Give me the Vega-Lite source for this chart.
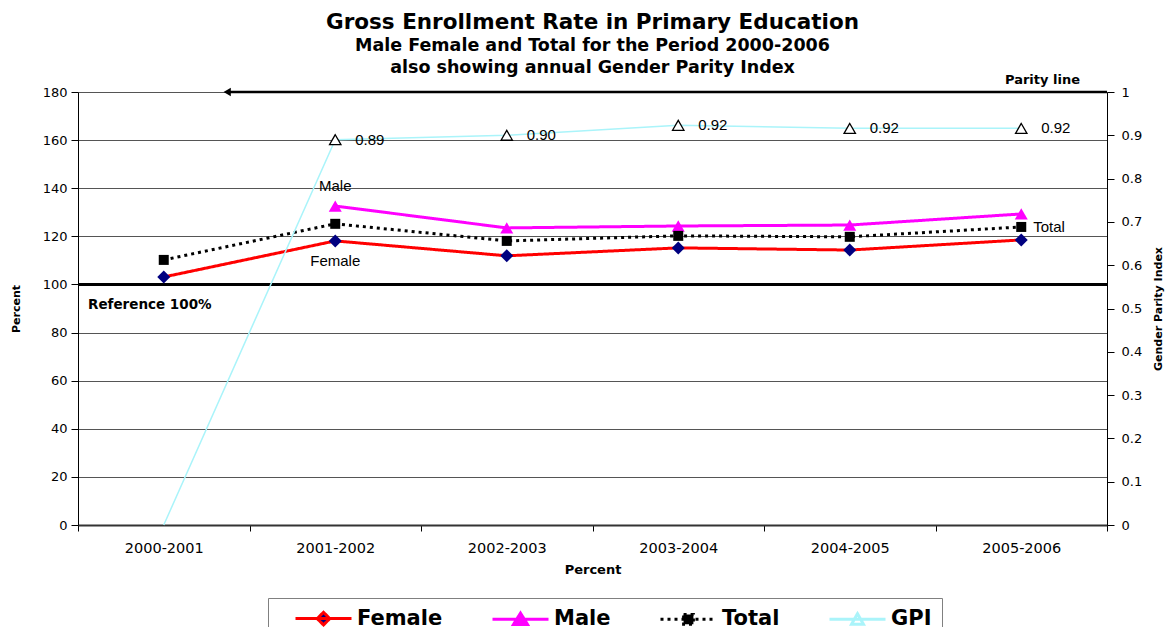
{
  "$schema": "https://vega.github.io/schema/vega-lite/v6.json",
  "width": 1029,
  "height": 433,
  "autosize": {"type": "none"},
  "padding": {"left": 78, "top": 92, "right": 60, "bottom": 102},
  "background": "white",
  "title": {
    "text": "Gross Enrollment Rate in Primary Education",
    "subtitle": ["Male Female and Total for the Period 2000-2006", "also showing annual Gender Parity Index"],
    "anchor": "middle",
    "frame": "group",
    "font": "DejaVu Sans",
    "fontSize": 21.5,
    "fontWeight": "bold",
    "color": "black",
    "subtitleFont": "DejaVu Sans",
    "subtitleFontSize": 17.5,
    "subtitleFontWeight": "bold",
    "subtitleColor": "black",
    "subtitleLineHeight": 22,
    "subtitlePadding": 3,
    "offset": -2
  },
  "config": {
    "view": {"stroke": null},
    "axis": {
      "labelFont": "DejaVu Sans",
      "labelColor": "black",
      "titleFont": "DejaVu Sans",
      "titleColor": "black",
      "titleFontWeight": "bold",
      "domainColor": "black",
      "tickColor": "black"
    },
    "axisX": {
      "labelAngle": 0,
      "labelFontSize": 14.5,
      "labelPadding": 10,
      "tickBand": "extent",
      "tickSize": 6,
      "domainWidth": 2,
      "domainColor": "#333333",
      "grid": false,
      "titleFontSize": 13,
      "titlePadding": 9
    },
    "legend": {
      "orient": "none",
      "legendX": 190,
      "legendY": 506,
      "direction": "horizontal",
      "strokeColor": "#808080",
      "fillColor": "white",
      "padding": 10,
      "labelFont": "DejaVu Sans",
      "labelFontSize": 21,
      "labelFontWeight": "bold",
      "labelColor": "black",
      "symbolSize": 196,
      "symbolOffset": 35,
      "labelOffset": 23,
      "columnPadding": 32
    }
  },
  "datasets": {
    "enrolment": [
      {"year": "2000-2001", "series": "Female", "value": 103.1},
      {"year": "2001-2002", "series": "Female", "value": 118.1},
      {"year": "2002-2003", "series": "Female", "value": 111.9},
      {"year": "2003-2004", "series": "Female", "value": 115.2},
      {"year": "2004-2005", "series": "Female", "value": 114.3},
      {"year": "2005-2006", "series": "Female", "value": 118.5},
      {"year": "2001-2002", "series": "Male", "value": 132.6},
      {"year": "2002-2003", "series": "Male", "value": 123.5},
      {"year": "2003-2004", "series": "Male", "value": 124.3},
      {"year": "2004-2005", "series": "Male", "value": 124.7},
      {"year": "2005-2006", "series": "Male", "value": 129.3},
      {"year": "2000-2001", "series": "Total", "value": 110.2},
      {"year": "2001-2002", "series": "Total", "value": 125.2},
      {"year": "2002-2003", "series": "Total", "value": 118.1},
      {"year": "2003-2004", "series": "Total", "value": 120.2},
      {"year": "2004-2005", "series": "Total", "value": 119.8},
      {"year": "2005-2006", "series": "Total", "value": 123.9}
    ],
    "gpi": [
      {"year": "2000-2001", "series": "GPI", "value": 0},
      {"year": "2001-2002", "series": "GPI", "value": 0.89},
      {"year": "2002-2003", "series": "GPI", "value": 0.9},
      {"year": "2003-2004", "series": "GPI", "value": 0.923},
      {"year": "2004-2005", "series": "GPI", "value": 0.916},
      {"year": "2005-2006", "series": "GPI", "value": 0.916}
    ],
    "reference": [{"year": "2000-2001", "value": 100, "label": "Reference 100%"}],
    "parity": [{"year": "2000-2001", "value": 1, "label": "Parity line"}]
  },
  "layer": [
    {
      "data": {"name": "enrolment"},
      "encoding": {
        "y": {
          "field": "value",
          "type": "quantitative",
          "scale": {"domain": [0, 180], "nice": false, "zero": true},
          "axis": {
            "title": "Percent",
            "titleFontSize": 11,
            "titlePadding": 21,
            "values": [0, 20, 40, 60, 80, 100, 120, 140, 160, 180],
            "grid": true,
            "gridColor": "#555555",
            "gridWidth": 1,
            "labelFontSize": 13,
            "labelPadding": 4,
            "tickSize": 7,
            "domainWidth": 1
          }
        }
      },
      "layer": [
        {
          "data": {"name": "reference"},
          "mark": {"type": "rule", "color": "black", "strokeWidth": 3}
        },
        {
          "mark": {"type": "line", "strokeJoin": "round"},
          "encoding": {
            "x": {
              "field": "year",
              "type": "nominal",
              "title": "Percent",
              "scale": {"type": "band", "domain": ["2000-2001", "2001-2002", "2002-2003", "2003-2004", "2004-2005", "2005-2006"], "paddingInner": 0, "paddingOuter": 0}
            },
            "color": {
              "field": "series",
              "type": "nominal",
              "scale": {"domain": ["Female", "Male", "Total", "GPI"], "range": ["#ff0000", "#ff00ff", "#000000", "#aaf4fa"]},
              "legend": {
                "title": null,
                "encode": {
                  "symbols": {
                    "update": {
                      "shape": {"signal": "datum.value === 'Female' ? 'M-4,0H4M0,-0.9L0.9,0L0,0.9L-0.9,0Z' : datum.value === 'Male' ? 'M-4,0H4M0,-0.85L1,0.75L-1,0.75Z' : datum.value === 'Total' ? 'M-4,0H4M-0.7,-0.7H0.7V0.7H-0.7Z' : 'M-4,0H4M0,-0.8L0.85,0.7L-0.85,0.7Z'"},
                      "fill": {"signal": "datum.value === 'Female' ? '#000080' : datum.value === 'Male' ? '#ff00ff' : datum.value === 'Total' ? '#000000' : '#ffffff'"},
                      "stroke": {"signal": "datum.value === 'Female' ? '#ff0000' : datum.value === 'Male' ? '#ff00ff' : datum.value === 'Total' ? '#000000' : '#aaf4fa'"},
                      "strokeWidth": {"signal": "datum.value === 'Total' || datum.value === 'GPI' ? 1.5 : 3"},
                      "strokeDash": {"signal": "datum.value === 'Total' ? [3, 4] : [1, 0]"},
                      "opacity": {"value": 1}
                    }
                  }
                }
              }
            },
            "strokeDash": {
              "field": "series",
              "type": "nominal",
              "scale": {"domain": ["Female", "Male", "Total", "GPI"], "range": [[1, 0], [1, 0], [3, 4], [1, 0]]},
              "legend": null
            },
            "strokeWidth": {
              "field": "series",
              "type": "nominal",
              "scale": {"domain": ["Female", "Male", "Total", "GPI"], "range": [3, 3, 1, 1.5]},
              "legend": null
            }
          }
        },
        {
          "transform": [{"filter": "datum.series === 'Female'"}],
          "mark": {"type": "point", "shape": "diamond", "filled": true, "color": "#000080", "size": 169, "opacity": 1},
          "encoding": {"x": {"field": "year", "type": "nominal", "title": "Percent"}}
        },
        {
          "transform": [{"filter": "datum.series === 'Male'"}],
          "mark": {"type": "point", "shape": "triangle-up", "filled": true, "color": "#ff00ff", "size": 170, "opacity": 1},
          "encoding": {"x": {"field": "year", "type": "nominal", "title": "Percent"}}
        },
        {
          "transform": [{"filter": "datum.series === 'Total'"}],
          "mark": {"type": "point", "shape": "square", "filled": true, "color": "#000000", "size": 100, "opacity": 1},
          "encoding": {"x": {"field": "year", "type": "nominal", "title": "Percent"}}
        },
        {
          "transform": [{"filter": "datum.series === 'Male' && datum.year === '2001-2002'"}],
          "mark": {"type": "text", "font": "Liberation Sans", "fontSize": 15, "color": "black", "dy": -20},
          "encoding": {"x": {"field": "year", "type": "nominal", "title": "Percent"}, "text": {"field": "series"}}
        },
        {
          "transform": [{"filter": "datum.series === 'Female' && datum.year === '2001-2002'"}],
          "mark": {"type": "text", "font": "Liberation Sans", "fontSize": 15, "color": "black", "dy": 20},
          "encoding": {"x": {"field": "year", "type": "nominal", "title": "Percent"}, "text": {"field": "series"}}
        },
        {
          "transform": [{"filter": "datum.series === 'Total' && datum.year === '2005-2006'"}],
          "mark": {"type": "text", "font": "Liberation Sans", "fontSize": 15, "color": "black", "align": "left", "dx": 12},
          "encoding": {"x": {"field": "year", "type": "nominal", "title": "Percent"}, "text": {"field": "series"}}
        },
        {
          "data": {"name": "reference"},
          "mark": {"type": "text", "font": "DejaVu Sans", "fontWeight": "bold", "fontSize": 13.5, "color": "black", "align": "left", "dx": 10, "dy": 21},
          "encoding": {"x": {"field": "year", "type": "nominal", "bandPosition": 0, "title": "Percent"}, "text": {"field": "label"}}
        }
      ]
    },
    {
      "data": {"name": "gpi"},
      "encoding": {
        "y": {
          "field": "value",
          "type": "quantitative",
          "scale": {"domain": [0, 1], "nice": false},
          "axis": {
            "orient": "right",
            "title": "Gender Parity Index",
            "titleAngle": -90,
            "titleFontSize": 11,
            "titlePadding": 22,
            "values": [0, 0.1, 0.2, 0.3, 0.4, 0.5, 0.6, 0.7, 0.8, 0.9, 1],
            "format": "~g",
            "grid": false,
            "labelFontSize": 13,
            "labelPadding": 7,
            "tickSize": 7,
            "domainWidth": 1
          }
        }
      },
      "layer": [
        {
          "mark": {"type": "line", "color": "#aaf4fa", "strokeWidth": 1.5},
          "encoding": {"x": {"field": "year", "type": "nominal", "title": "Percent"}}
        },
        {
          "transform": [{"filter": "datum.value > 0"}],
          "mark": {"type": "point", "shape": "triangle-up", "filled": false, "fill": "white", "stroke": "black", "strokeWidth": 1.3, "size": 130, "opacity": 1},
          "encoding": {"x": {"field": "year", "type": "nominal", "title": "Percent"}}
        },
        {
          "transform": [{"filter": "datum.value > 0"}],
          "mark": {"type": "text", "font": "Liberation Sans", "fontSize": 15, "color": "black", "align": "left", "dx": 20},
          "encoding": {"x": {"field": "year", "type": "nominal", "title": "Percent"}, "text": {"field": "value", "type": "quantitative", "format": ".2f"}}
        },
        {
          "data": {"name": "parity"},
          "mark": {"type": "rule", "color": "black", "strokeWidth": 2.5},
          "encoding": {"x": {"field": "year", "type": "nominal", "bandPosition": 0.87, "title": "Percent"}, "x2": {"value": "width"}}
        },
        {
          "data": {"name": "parity"},
          "mark": {"type": "point", "shape": "triangle-left", "filled": true, "color": "black", "size": 70, "opacity": 1},
          "encoding": {"x": {"field": "year", "type": "nominal", "bandPosition": 0.87, "title": "Percent"}}
        },
        {
          "data": {"name": "parity"},
          "mark": {"type": "text", "font": "DejaVu Sans", "fontWeight": "bold", "fontSize": 13, "color": "black", "align": "right", "dx": -27, "dy": -12},
          "encoding": {"x": {"value": "width"}, "text": {"field": "label"}}
        }
      ]
    }
  ],
  "resolve": {"scale": {"y": "independent"}}
}
